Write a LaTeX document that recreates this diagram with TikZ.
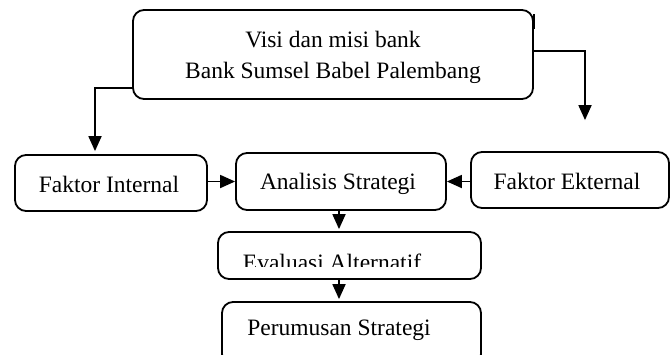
\documentclass[tikz,border=0pt]{standalone}
\usepackage{fontspec}
\setmainfont{Liberation Serif}
\usetikzlibrary{arrows.meta}
\begin{document}
\begin{tikzpicture}[x=1pt,y=-1pt,
  box/.style={draw=black,line width=1.8pt,rounded corners=11pt,inner sep=0pt,fill=none},
  txt/.style={inner sep=0pt,anchor=base,font=\fontsize{23.5}{31}\selectfont},
  arr/.style={draw=black,line width=1.8pt,-{Triangle[length=15pt,width=13pt]}},
  ln/.style={draw=black,line width=1.8pt}]
\path[use as bounding box] (0,0) rectangle (671,354);
\clip (0,0) rectangle (671,354);
% boxes
\node[box,minimum width=400pt,minimum height=89pt] (top) at (333,54.5) {};
\node[box,minimum width=192pt,minimum height=56pt] (fi) at (111,183) {};
\node[box,minimum width=210pt,minimum height=57pt] (an) at (341,181.5) {};
\node[box,minimum width=198pt,minimum height=56pt] (fe) at (570,180) {};
\node[box,minimum width=263pt,minimum height=47pt] (ev) at (349.5,255.5) {};
\node[box,minimum width=259pt,minimum height=63pt] (pe) at (351.5,333.5) {};
% texts
\node[txt] (t1) at (333,47) {Visi dan misi bank};
\node[txt] (t2) at (333,78) {Bank Sumsel Babel Palembang};
\node[txt] (tfi) at (109,192) {Faktor Internal};
\node[txt] (tan) at (338,189) {Analisis Strategi};
\node[txt] (tfe) at (567,189) {Faktor Ekternal};
\begin{scope}
  \clip (200,236) rectangle (470,266);
  \node[txt] (tev) at (332,270) {Evaluasi Alternatif};
\end{scope}
\node[txt] (tpe) at (339,335) {Perumusan Strategi};
% small tick at top-right corner
\draw[ln] ([yshift=-5pt]top.north east) -- ([yshift=-20pt]top.north east);
% connectors
\draw[arr] ([yshift=12pt]top.south west) -| ([xshift=-16pt,yshift=3pt]fi.north);
\draw[arr] ([yshift=3.5pt]top.east) -| ([xshift=15pt,yshift=31pt]fe.north);
\draw[arr] (fi.east |- an.west) -- (an.west);
\draw[arr] (fe.west |- an.east) -- (an.east);
\draw[arr] ([xshift=-2pt]an.south) -- ([xshift=-2pt,yshift=2pt]an.south |- ev.north);
\draw[arr] ([xshift=-2pt]an.south |- ev.south) -- ([xshift=-2pt,yshift=2pt]an.south |- pe.north);
\end{tikzpicture}
\end{document}
